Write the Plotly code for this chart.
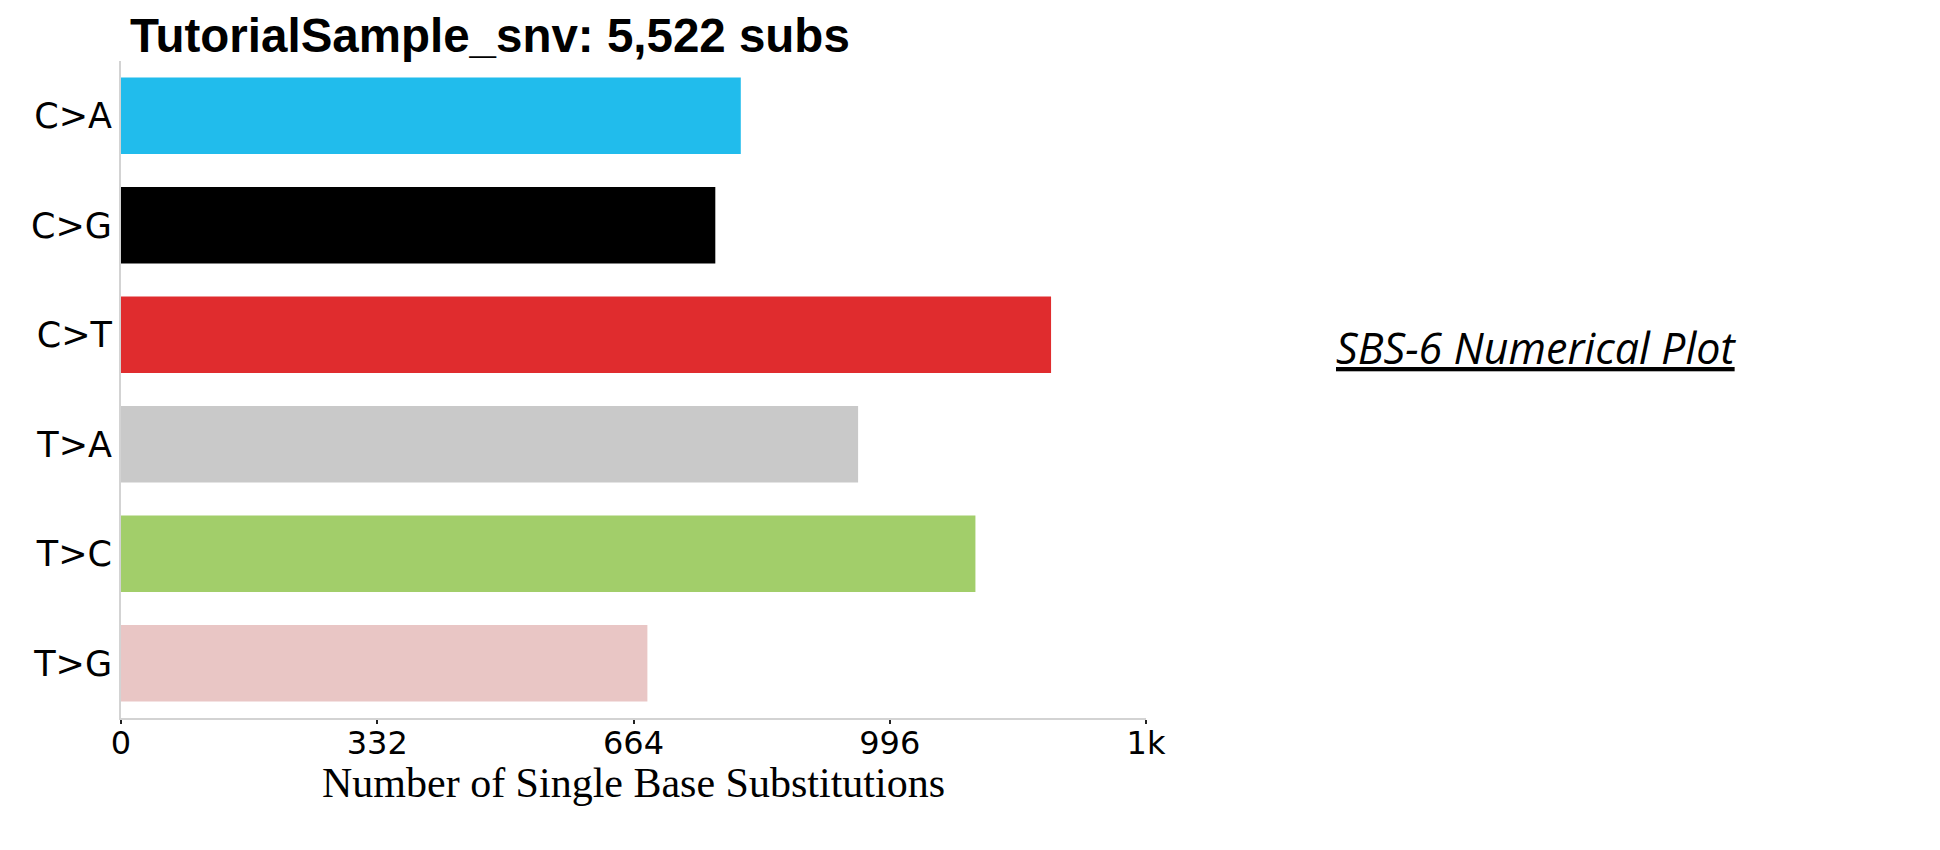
import plotly.graph_objects as go

categories = ["C>A", "C>G", "C>T", "T>A", "T>C", "T>G"]
counts = [803, 770, 1205, 955, 1107, 682]
bar_colors = ["rgb(33,188,236)", "rgb(0,0,0)", "rgb(224,44,46)",
              "rgb(201,201,201)", "rgb(162,206,106)", "rgb(233,198,197)"]
tick_vals = [0, 332, 664, 996, 1328]
tick_text = ["0", "332", "664", "996", "1k"]
title_text = "TutorialSample_snv: 5,522 subs"
x_title = "Number of Single Base Substitutions"
side_label = "SBS-6 Numerical Plot"

# page body has an 8px margin, so lay out in page pixels minus 8
OFF = 8
W, H = 1940 - OFF, 850 - OFF


def px(x):
    return (x - OFF) / W


def py(y):
    return 1 - (y - OFF) / H


fig = go.Figure()
fig.add_trace(go.Bar(
    x=counts, y=categories, orientation="h",
    marker=dict(color=bar_colors, line=dict(width=0)),
    width=0.7, showlegend=False,
))

fig.update_layout(
    width=W, height=H,
    margin=dict(l=0, r=0, t=0, b=0, autoexpand=False),
    paper_bgcolor="white", plot_bgcolor="white",
    title=dict(
        text="<b>" + title_text + "</b>",
        font=dict(family="Liberation Sans, Arial", size=47.5, color="black"),
        x=px(130), xanchor="left", xref="paper",
        y=py(35), yanchor="middle", yref="container",
        automargin=False,
    ),
    xaxis=dict(
        domain=[px(121), px(1146)],
        range=[0, 1328],
        tickvals=tick_vals, ticktext=tick_text,
        tickfont=dict(family="DejaVu Sans", size=32, color="black"),
        ticks="outside", ticklen=4, tickwidth=2, tickcolor="#222",
        ticklabelstandoff=-8,
        showline=True, linecolor="#d3d3d3", linewidth=2,
        showgrid=False, zeroline=False, automargin=False,
    ),
    yaxis=dict(
        domain=[py(718), py(61)],
        range=[5.5, -0.5],
        categoryorder="array", categoryarray=categories,
        tickfont=dict(family="DejaVu Sans", size=35, color="black"),
        ticks="", ticklabelstandoff=0,
        showline=True, linecolor="#d3d3d3", linewidth=2,
        showgrid=False, zeroline=False, automargin=False,
    ),
    annotations=[
        dict(
            text=x_title,
            x=px(633.5), y=py(783), xref="paper", yref="paper",
            xanchor="center", yanchor="middle", showarrow=False,
            font=dict(family="Liberation Serif, Times New Roman", size=42, color="black"),
        ),
        dict(
            text="<i><u>" + side_label + "</u></i>",
            x=px(1536), y=py(347), xref="paper", yref="paper",
            xanchor="center", yanchor="middle", showarrow=False,
            font=dict(family="Open Sans", size=43, color="black"),
        ),
    ],
)

fig.write_html("out.html")
